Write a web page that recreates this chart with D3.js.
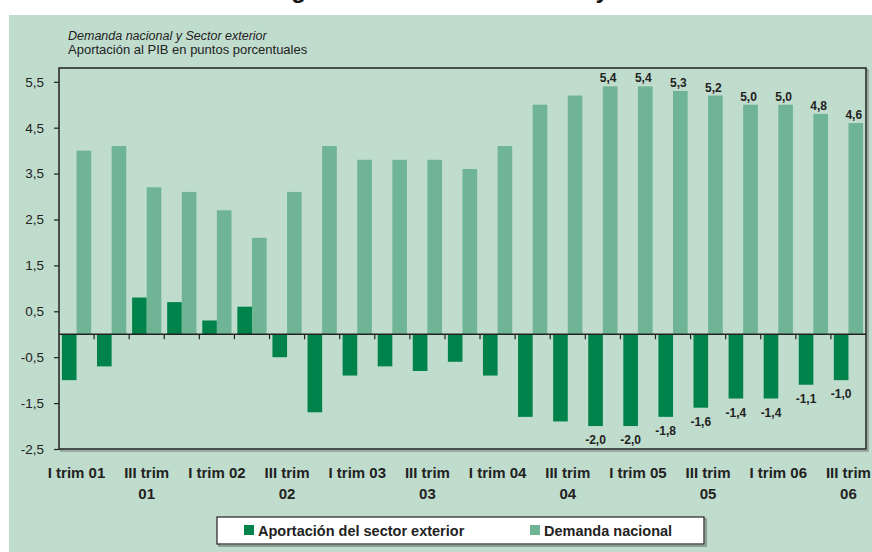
<!DOCTYPE html>
<html>
<head>
<meta charset="utf-8">
<script src="https://cdn.jsdelivr.net/npm/d3@7"></script>
<style>
  body { margin: 0; background: #fff; }
  svg { display: block; font-family: "Liberation Sans", Arial, sans-serif; }
</style>
</head>
<body>
<div id="chart"></div>
<script>
// quarters 2001 Q1 .. 2006 Q3
const quarters = [
  "I trim 01", "II trim 01", "III trim 01", "IV trim 01",
  "I trim 02", "II trim 02", "III trim 02", "IV trim 02",
  "I trim 03", "II trim 03", "III trim 03", "IV trim 03",
  "I trim 04", "II trim 04", "III trim 04", "IV trim 04",
  "I trim 05", "II trim 05", "III trim 05", "IV trim 05",
  "I trim 06", "II trim 06", "III trim 06"
];
// shown under every second quarter, "\n" = line break
const tickLabels = [
  "I trim 01", "III trim\n01", "I trim 02", "III trim\n02", "I trim 03", "III trim\n03",
  "I trim 04", "III trim\n04", "I trim 05", "III trim\n05", "I trim 06", "III trim\n06"
];
const sectorExterior = [-1.0, -0.7, 0.8, 0.7, 0.3, 0.6, -0.5, -1.7, -0.9, -0.7, -0.8, -0.6,
  -0.9, -1.8, -1.9, -2.0, -2.0, -1.8, -1.6, -1.4, -1.4, -1.1, -1.0];
const demandaNacional = [4.0, 4.1, 3.2, 3.1, 2.7, 2.1, 3.1, 4.1, 3.8, 3.8, 3.8, 3.6,
  4.1, 5.0, 5.2, 5.4, 5.4, 5.3, 5.2, 5.0, 5.0, 4.8, 4.6];
const yTicks = [-2.5, -1.5, -0.5, 0.5, 1.5, 2.5, 3.5, 4.5, 5.5];
const seriesNames = ["Aportación del sector exterior", "Demanda nacional"];
const labelFrom = 15; // data labels only on the last quarters

const colors = { ext: "#00834a", dem: "#6fb494", bg: "#c0dccd", ink: "#222" };
const fmt = v => v.toFixed(1).replace(".", ",");

const W = 872, H = 552;
const plot = { left: 59, right: 866, top: 68, bottom: 449 };

const svg = d3.select("#chart").append("svg")
  .attr("width", W).attr("height", H);

// title (cut off at the top of the image, as in the original)
svg.append("text")
  .attr("x", 270).attr("y", -2)
  .style("font-size", "24px").style("font-weight", "bold").attr("fill", "#111")
  .text("Figura 1. Demanda nacional y sector exterior");

// panel background
svg.append("rect")
  .attr("x", 9).attr("y", 15).attr("width", W - 9).attr("height", H - 15)
  .attr("fill", colors.bg);

svg.append("text")
  .attr("x", 68).attr("y", 40)
  .style("font-size", "12.5px").style("font-style", "italic").attr("fill", colors.ink)
  .text("Demanda nacional y Sector exterior");
svg.append("text")
  .attr("x", 68).attr("y", 54)
  .style("font-size", "13px").attr("fill", colors.ink)
  .text("Aportación al PIB en puntos porcentuales");

const x = d3.scaleBand()
  .domain(quarters)
  .range([plot.left, plot.right])
  .padding(0);
const x1 = d3.scaleBand()
  .domain(["ext", "dem"])
  .range([0, x.bandwidth()])
  .paddingInner(0)
  .paddingOuter(0.2);
const y = d3.scaleLinear()
  .domain([-2.5, 5.8])
  .range([plot.bottom, plot.top]);

// plot frame with a little shadow
svg.append("rect")
  .attr("x", plot.left + 2).attr("y", plot.top + 2)
  .attr("width", plot.right - plot.left).attr("height", plot.bottom - plot.top)
  .attr("fill", "none").attr("stroke", "#8c9a92").attr("stroke-width", 1.5);
svg.append("rect")
  .attr("x", plot.left).attr("y", plot.top)
  .attr("width", plot.right - plot.left).attr("height", plot.bottom - plot.top)
  .attr("fill", colors.bg).attr("stroke", colors.ink).attr("stroke-width", 1.5);

// y axis
const yAxis = svg.append("g")
  .attr("transform", "translate(" + plot.left + ",0)")
  .call(d3.axisLeft(y).tickValues(yTicks).tickSize(5).tickPadding(10).tickFormat(fmt));
yAxis.select(".domain").remove();
yAxis.selectAll("line").attr("stroke", colors.ink).attr("stroke-width", 1.2);
yAxis.selectAll("text")
  .style("font-size", "13.5px").style("font-family", "\"Liberation Sans\", Arial, sans-serif")
  .attr("fill", colors.ink);

// bars
const rows = quarters.map((q, i) => ({ q, i, ext: sectorExterior[i], dem: demandaNacional[i] }));

svg.append("g").selectAll("rect")
  .data(rows)
  .join("rect")
  .attr("x", d => x(d.q) + x1("ext"))
  .attr("y", d => y(Math.max(0, d.ext)))
  .attr("width", x1.bandwidth())
  .attr("height", d => Math.abs(y(d.ext) - y(0)))
  .attr("fill", colors.ext);

svg.append("g").selectAll("rect")
  .data(rows)
  .join("rect")
  .attr("x", d => x(d.q) + x1("dem"))
  .attr("y", d => y(d.dem))
  .attr("width", x1.bandwidth())
  .attr("height", d => y(0) - y(d.dem))
  .attr("fill", colors.dem);

// zero line + ticks between quarters
svg.append("line")
  .attr("x1", plot.left).attr("x2", plot.right)
  .attr("y1", y(0)).attr("y2", y(0))
  .attr("stroke", colors.ink).attr("stroke-width", 1.5);
svg.append("g").selectAll("line")
  .data(quarters.slice(1))
  .join("line")
  .attr("x1", d => x(d)).attr("x2", d => x(d))
  .attr("y1", y(0)).attr("y2", y(0) + 5)
  .attr("stroke", colors.ink).attr("stroke-width", 1.2);

// data labels
const labelled = rows.filter(d => d.i >= labelFrom);
svg.append("g").selectAll("text")
  .data(labelled)
  .join("text")
  .attr("x", d => x(d.q) + x1("dem") + x1.bandwidth() / 2 - 2)
  .attr("y", d => y(d.dem) - 4)
  .attr("text-anchor", "middle")
  .style("font-size", "12px").style("font-weight", "bold").attr("fill", colors.ink)
  .text(d => fmt(d.dem));
svg.append("g").selectAll("text")
  .data(labelled)
  .join("text")
  .attr("x", d => x(d.q) + x1("ext") + x1.bandwidth() / 2)
  .attr("y", d => y(d.ext) + 18)
  .attr("text-anchor", "middle")
  .style("font-size", "12px").style("font-weight", "bold").attr("fill", colors.ink)
  .text(d => fmt(d.ext));

// category labels, every second quarter
const catLabels = svg.append("g").selectAll("text")
  .data(tickLabels)
  .join("text")
  .attr("text-anchor", "middle")
  .style("font-size", "15px").style("font-weight", "bold").attr("fill", colors.ink);
catLabels.selectAll("tspan")
  .data((d, k) => d.split("\n").map((s, j) => ({ s, j, k })))
  .join("tspan")
  .attr("x", d => x(quarters[d.k * 2]) + x.bandwidth() / 2)
  .attr("y", d => 478 + d.j * 21)
  .text(d => d.s);

// legend
const leg = svg.append("g");
leg.append("rect")
  .attr("x", 219).attr("y", 519).attr("width", 487).attr("height", 27)
  .attr("fill", "none").attr("stroke", "#7d8a83").attr("stroke-width", 1.5);
leg.append("rect")
  .attr("x", 217).attr("y", 517).attr("width", 487).attr("height", 27)
  .attr("fill", "#fff").attr("stroke", colors.ink).attr("stroke-width", 1.2);
const legItems = [
  { name: seriesNames[0], color: colors.ext, x: 244 },
  { name: seriesNames[1], color: colors.dem, x: 530 }
];
legItems.forEach(it => {
  leg.append("rect")
    .attr("x", it.x).attr("y", 525).attr("width", 10).attr("height", 10)
    .attr("fill", it.color);
  leg.append("text")
    .attr("x", it.x + 14).attr("y", 535.5)
    .style("font-size", "14.5px").style("font-weight", "bold").attr("fill", colors.ink)
    .text(it.name);
});
</script>
</body>
</html>
